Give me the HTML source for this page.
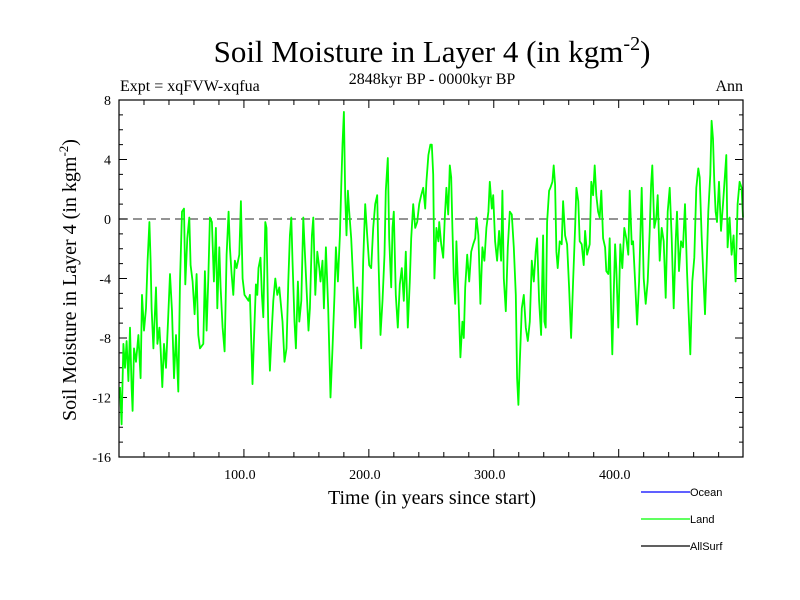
<!DOCTYPE html>
<html><head><meta charset="utf-8"><style>
body{margin:0;background:#fff;}
svg{display:block;}
text{font-family:"Liberation Serif",serif;fill:#000;}
.sans{font-family:"Liberation Sans",sans-serif;}
</style></head><body>
<svg id="chart" width="800" height="600" viewBox="0 0 800 600" xmlns="http://www.w3.org/2000/svg">
<rect width="800" height="600" fill="#fff"/>
<text x="432" y="62" font-size="31" text-anchor="middle">Soil Moisture in Layer 4 (in kgm<tspan font-size="20" dy="-12">-2</tspan><tspan dy="12">)</tspan></text>
<text x="432" y="84" font-size="16" text-anchor="middle">2848kyr BP - 0000kyr BP</text>
<text x="120" y="91" font-size="16">Expt = xqFVW-xqfua</text>
<text x="743" y="91" font-size="16" text-anchor="end">Ann</text>
<text transform="translate(76,280) rotate(-90)" font-size="20" text-anchor="middle">Soil Moisture in Layer 4 (in kgm<tspan font-size="13" dy="-8">-2</tspan><tspan dy="8">)</tspan></text>
<text x="432" y="504" font-size="20" text-anchor="middle">Time (in years since start)</text>
<g id="axes"></g>
<g id="series"></g>
<g>
<line x1="641" y1="492" x2="690" y2="492" stroke="#0000ff" stroke-width="1.2"/>
<text class="sans" x="690" y="496" font-size="11">Ocean</text>
<line x1="641" y1="519" x2="690" y2="519" stroke="#00ff00" stroke-width="1.2"/>
<text class="sans" x="690" y="523" font-size="11">Land</text>
<line x1="641" y1="546" x2="690" y2="546" stroke="#000" stroke-width="1.2"/>
<text class="sans" x="690" y="550" font-size="11">AllSurf</text>
</g>
</svg>
<script>
const yTickLabels = ["8","4","0","-4","-8","-12","-16"];
const yTickValues = [8,4,0,-4,-8,-12,-16];
const xTickValues = [100,200,300,400];
const xTickLabels = ["100.0","200.0","300.0","400.0"];
const landYears = [0.8,2.1,3.5,4.8,6.1,7.5,8.8,10.1,10.9,12,13.6,15.5,17.3,18.4,20,21.6,22.9,24.3,25.3,26.1,27.5,29.6,30.7,32.3,33.3,34.7,36,37.6,39.2,40.8,42.4,44,45.6,47.5,48.8,50.4,52,53.1,54.7,56.3,57.3,58.9,60.5,62.1,63.5,64.8,67.5,68.8,70.1,71.5,72.8,74.4,76,77.6,78.7,80.3,81.3,82.9,84.5,86.1,87.7,88.8,90.1,91.5,92.8,94.1,96.3,97.6,98.9,100.5,102.1,103.7,104.8,106.9,108,109.6,110.7,111.7,113.3,114.4,115.5,117.1,118.1,119.5,120.8,122.4,123.5,125.1,126.7,128.3,
130.9,132.5,134.1,135.5,136.8,137.9,138.9,140.5,141.6,143.2,144.3,145.9,147.5,148.5,150.1,151.7,152.8,154.4,155.5,157.1,158.7,160.3,161.3,162.9,164,165.6,167.5,169.3,170.9,172.5,173.6,175.2,176.8,177.9,178.9,180,181.1,182.1,183.2,184.3,185.9,187.5,189.1,190.7,192.3,193.9,195.5,197.1,198.7,200.3,201.9,203.5,205.1,206.7,207.7,209.3,210.9,212.5,213.6,215.2,216.3,217.9,218.9,220,221.6,223.2,224.8,226.4,228,229.6,231.2,232.8,233.9,235.5,237.1,238.7,240.3,241.9,243.5,245.1,246.1,247.7,249.3,250.4,251.5,252.5,254.1,255.7,
256.3,257.9,259.5,260.8,262.1,263.5,264.8,265.9,266.9,268,269.1,270.1,271.7,273.3,274.9,276,277.1,278.7,280.3,281.9,283.5,285.1,286.1,287.7,289.3,290.9,292.5,294.1,295.7,296.8,298.4,299.5,301.1,302.7,304.3,305.9,306.9,308,309.6,311.2,312.8,314.4,316,317.6,318.7,319.7,320.8,322.4,324,325.6,327.2,328.8,330.4,332,333.6,334.7,336.3,337.9,339.5,340.5,341.6,342.7,344.3,345.3,346.9,348,349.1,350.1,351.2,352.8,354.4,355.5,357.1,358.7,360.3,361.9,363.5,365.1,366.1,367.7,368.8,370.4,372,373.1,374.7,376.8,
378.1,379.5,380.8,382.1,383.5,384.8,386.1,387.5,389.1,390.1,391.7,392.8,393.9,394.9,396,397.1,398.1,399.7,401.3,402.9,404.5,406.1,407.7,408.8,410.4,411.5,413.1,414.7,416.3,417.3,418.4,420,421.6,423.2,424.8,425.9,426.9,428.5,430.1,431.2,432.8,434.4,436,437.6,439.2,440.8,442.4,444,445.6,446.7,448.3,449.9,451.5,453.1,454.7,456.3,457.3,458.9,460.5,462.1,463.7,464.8,466.4,468,469.1,470.7,471.7,473.3,474.4,475.5,476.5,477.6,478.7,480.3,481.9,483.5,485.1,486.1,487.2,488.8,490.4,492,493.6,495.2,496.8,498.4,499.5];
const landValues = [-11.3,-13.8,-8.4,-10,-8.2,-10.9,-7.3,-11.3,-12.9,-8.7,-9.6,-7.8,-10.7,-5.1,-7.5,-6,-2.8,-0.2,-2.8,-6,-8.7,-4.6,-8.4,-7.3,-8.7,-11.3,-8.4,-10,-6.9,-3.7,-6.2,-10.7,-7.8,-11.6,-4.2,0.5,0.7,-4.4,-1.3,0.1,-3.1,-4.2,-6.4,-3.7,-7.8,-8.7,-8.4,-3.5,-7.5,-4.0,0.1,-0.2,-4.2,-0.6,-6.0,-1.9,-4.6,-7.3,-8.9,-2.4,0.5,-1.9,-3.7,-5.1,-2.8,-3.3,-2.4,1.2,-4.0,-5.1,-5.3,-5.5,-5.1,-11.1,-8.2,-4.4,-5.1,-3.3,-2.6,-5.1,-6.6,-0.2,-0.6,-7.3,-10.2,-7.3,-5.5,-4.0,-5.1,-4.6,
-6.9,-9.6,-8.7,-4.2,-1.1,0.1,-2.8,-6.9,-8.7,-4.2,-6.9,-5.5,0.1,-1.7,-4.6,-7.5,-6.0,-1.1,0.1,-5.1,-2.2,-3.3,-4.2,-2.8,-6.0,-1.9,-6.0,-12,-8.7,-5.1,-1.9,-4.2,-1.1,2.1,5.0,7.2,1.6,-1.1,1.9,0.5,-1.3,-4.2,-7.3,-4.6,-6.0,-8.7,-2.8,1.0,-1.1,-3.1,-3.3,-0.6,1.0,1.6,-2.8,-7.8,-5.5,-2.4,1.9,4.1,-1.3,-4.6,-0.6,0.5,-5.1,-7.3,-4.4,-3.3,-5.5,-2.2,-7.3,-4.2,-1.3,1.0,-0.6,-0.2,1.0,1.6,2.1,0.7,2.5,4.3,5.0,5.0,3.0,-4.0,-0.6,-1.5,
-0.2,-1.7,-2.6,0.1,2.1,0.3,3.6,2.8,-0.6,-4.0,-5.7,-1.5,-5.1,-9.3,-6.9,-8.0,-4.6,-2.4,-4.2,-2.2,-1.7,-1.3,0.1,-1.1,-5.7,-1.9,-2.8,-0.6,0.5,2.5,0.7,1.6,-1.5,-2.8,-0.8,-2.8,1.9,-4.0,-6.2,-1.9,0.5,0.3,-1.9,-5.1,-10.7,-12.5,-9.6,-6.0,-5.1,-7.3,-8.2,-6.9,-2.8,-4.2,-2.2,-1.3,-5.5,-7.8,-1.1,-6.9,-7.3,-0.2,1.9,2.1,2.5,3.6,2.3,-2.2,-3.3,-1.5,-1.7,1.2,-1.1,-1.7,-4.6,-8.0,-4.2,-0.6,2.1,1.2,-1.5,-1.7,-3.1,-0.8,-2.4,-1.7,
2.5,1.6,3.6,1.6,0.5,0.1,1.9,-1.3,-1.9,-3.5,-3.7,-1.3,-6.0,-9.1,-5.1,-1.7,-3.3,-7.3,-1.7,-3.3,-0.6,-1.3,-2.4,1.9,-1.7,-1.5,-4.2,-7.1,-4.2,-1.3,2.1,-4.0,-5.7,-4.2,-0.8,2.3,3.6,-0.6,0.1,1.6,-2.8,-0.6,-1.5,-5.3,0.5,2.1,-1.3,-6.0,-1.5,0.5,-3.5,-1.5,-1.9,1.0,-3.5,-6.9,-9.1,-4.2,-2.6,2.1,3.4,2.8,-1.1,-4.2,-6.4,-2.4,0.5,3.0,6.6,5.4,2.5,0.5,-0.2,2.5,-0.8,1.0,3.0,4.3,-1.9,0.1,-2.4,-1.1,-4.2,1.0,2.5,2.1,0.1];

const NS="http://www.w3.org/2000/svg";
const L=119,R=743,T=100,B=457, X0=0, X1=499.5, Y0=-16, Y1=8;
function xs(v){return L+(v-X0)/(X1-X0)*(R-L);}
function ys(v){return B-(v-Y0)/(Y1-Y0)*(B-T);}
function mk(tag,attrs,parent){const e=document.createElementNS(NS,tag);for(const k in attrs)e.setAttribute(k,attrs[k]);parent.appendChild(e);return e;}
const axes=document.getElementById('axes');
const zl=mk('line',{x1:L,x2:R,y1:ys(0),y2:ys(0),stroke:'#555','stroke-width':1.3,'stroke-dasharray':'9,5'},axes);


let tp='';
for(let v=Y0;v<=Y1;v++){const y=ys(v);const len=(v%4===0)?8:4;tp+=`M${L},${y}h${len}M${R},${y}h${-len}`;}
for(let v=20;v<X1;v+=20){const x=xs(v);const len=(v%100===0)?8:5;tp+=`M${x},${B}v${-len}M${x},${T}v${len}`;}
const tk=mk('path',{d:tp,stroke:'#000','stroke-width':1,fill:'none'},axes);


yTickValues.forEach((v,i)=>{const t=mk('text',{x:111,y:ys(v)+5,'font-size':14,'text-anchor':'end'},axes);t.textContent=yTickLabels[i];

});
xTickValues.forEach((v,i)=>{const t=mk('text',{x:xs(v)-4,y:479,'font-size':14,'text-anchor':'middle'},axes);t.textContent=xTickLabels[i];

});
const ser=document.getElementById('series');
const pts=landYears.map((x,i)=>xs(x).toFixed(1)+','+ys(landValues[i]).toFixed(1)).join(' ');
const pl=mk('polyline',{points:pts,fill:'none',stroke:'#00ff00','stroke-width':1.8,'stroke-linejoin':'round'},ser);


const fr=mk('rect',{x:L,y:T,width:R-L,height:B-T,fill:'none',stroke:'#000','stroke-width':1.2},axes.parentNode);


</script>
</body></html>
